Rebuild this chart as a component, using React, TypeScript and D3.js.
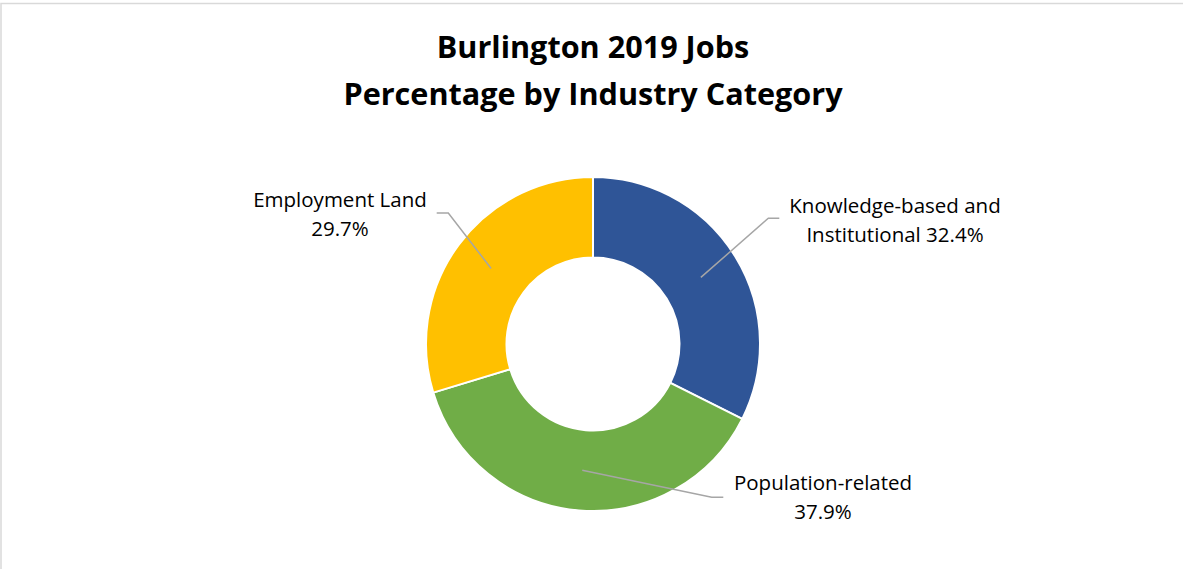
import React from "react";
import * as d3 from "d3";

const title = ["Burlington 2019 Jobs", "Percentage by Industry Category"];
const categories = ["Knowledge-based and Institutional", "Population-related", "Employment Land"];
const values = [32.4, 37.9, 29.7];
const colors = ["#2F5597", "#70AD47", "#FFC000"];
// words of each category placed on the first label line
const firstLineWords = [2, 1, 2];

const W = 1183;
const H = 569;
const CX = 593;
const CY = 344;
const R_OUT = 167;
const R_IN = 86.5;
const FONT = "'Open Sans', 'Noto Sans', sans-serif";

// label layout: text centre x, first baseline, leader elbow and end
const labelLayout = [
  { x: 895, y: 213.3, elbow: [768.3, 218.3], end: [779.3, 218.3] },
  { x: 823, y: 490, elbow: [711.7, 497.3], end: [723.3, 497.3] },
  { x: 340, y: 206.7, elbow: [448.3, 213], end: [436.7, 213] },
];

export default function App() {
  const pie = d3.pie<number>().sort(null).value((d) => d)(values);
  const arc = d3.arc<d3.PieArcDatum<number>>().innerRadius(R_IN).outerRadius(R_OUT);
  const total = d3.sum(values);

  const labels = categories.map((c, i) => {
    const words = c.split(" ");
    const pct = d3.format(".1f")((values[i] / total) * 100) + "%";
    const n = firstLineWords[i];
    const l1 = words.slice(0, n).join(" ");
    const rest = words.slice(n).join(" ");
    const l2 = rest ? rest + " " + pct : pct;
    return [l1, l2];
  });

  return (
    <svg
      width={W}
      height={H}
      style={{ position: "absolute", left: 0, top: 0, background: "#fff" }}
    >
      <rect x={1} y={3.5} width={W + 20} height={H + 20} fill="#fff" stroke="#D9D9D9" strokeWidth={1.5} />
      <g fontFamily={FONT} fontWeight="bold" fontSize={30.6} textAnchor="middle" fill="#000">
        <text x={CX} y={58}>{title[0]}</text>
        <text x={CX} y={104.5}>{title[1]}</text>
      </g>
      <g transform={`translate(${CX},${CY})`}>
        {pie.map((p, i) => (
          <path key={i} d={arc(p) || ""} fill={colors[i]} stroke="#fff" strokeWidth={2} />
        ))}
      </g>
      {pie.map((p, i) => {
        const c = arc.centroid(p);
        const L = labelLayout[i];
        const pts: [number, number][] = [[CX + c[0], CY + c[1]], L.elbow as [number, number], L.end as [number, number]];
        return (
          <path key={i} d={d3.line()(pts) || ""} fill="none" stroke="#A6A6A6" strokeWidth={1.5} />
        );
      })}
      <g fontFamily={FONT} fontSize={20.5} textAnchor="middle" fill="#000">
        {labels.map((ls, i) => (
          <text key={i} x={labelLayout[i].x} y={labelLayout[i].y}>
            {ls.map((t, j) => (
              <tspan key={j} x={labelLayout[i].x} dy={j === 0 ? 0 : 28.8}>{t}</tspan>
            ))}
          </text>
        ))}
      </g>
    </svg>
  );
}
